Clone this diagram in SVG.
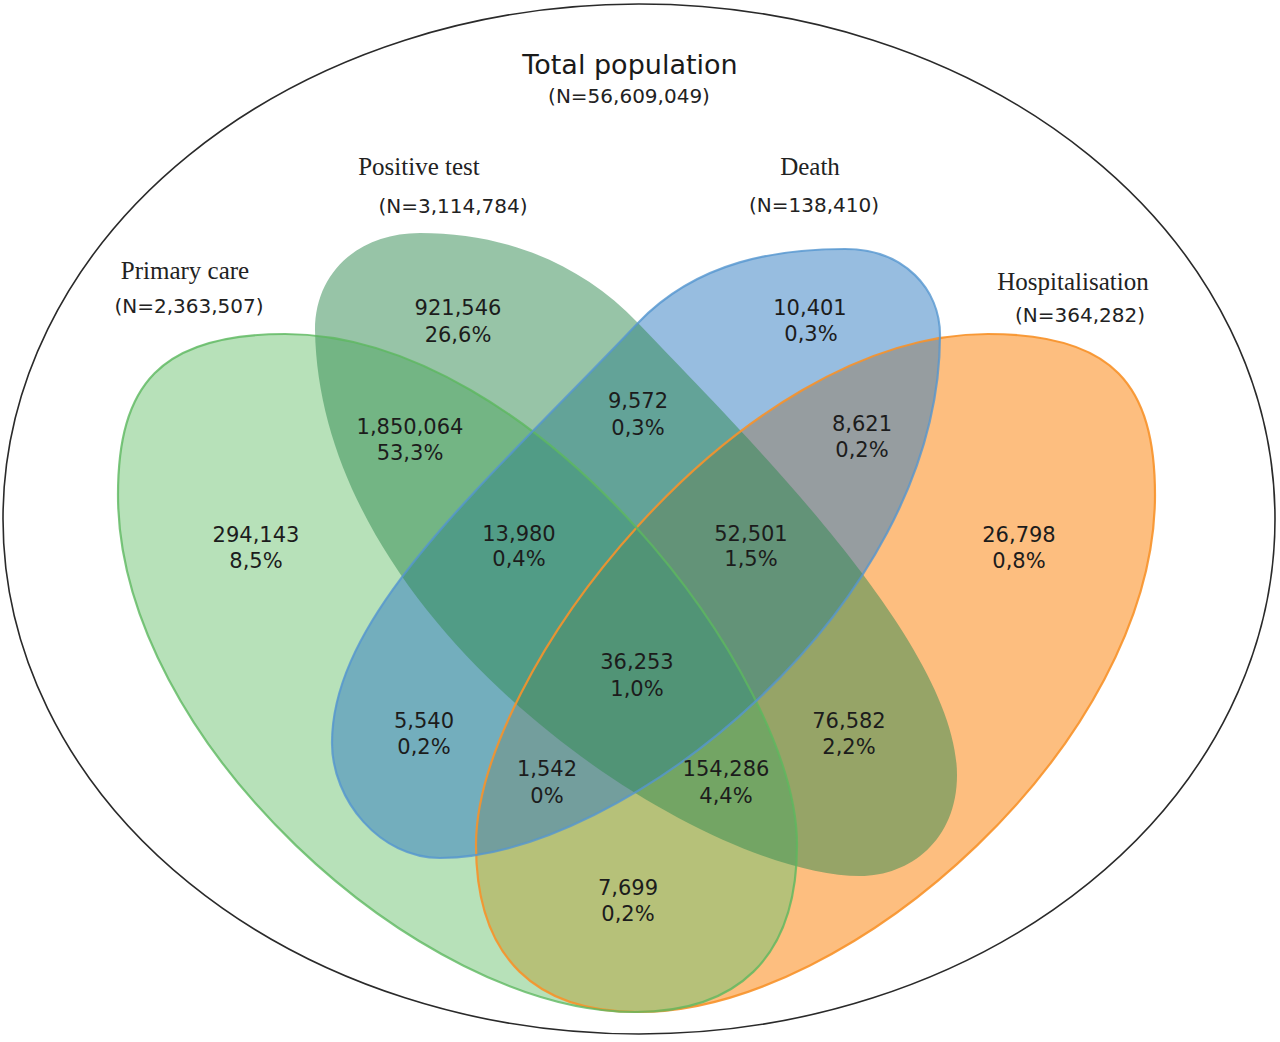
<svg xmlns="http://www.w3.org/2000/svg" xmlns:xlink="http://www.w3.org/1999/xlink" width="1280" height="1042" viewBox="0 0 1280 1042">
<style>
.title{font-family:"DejaVu Sans","Verdana",sans-serif;font-size:27px;fill:#1a1a1a;text-anchor:middle}
.n{font-family:"DejaVu Sans","Verdana",sans-serif;font-size:20px;fill:#222;text-anchor:middle}
.set{font-family:"Liberation Serif","Times New Roman",serif;font-size:25px;fill:#222;text-anchor:middle}
.v{font-family:"DejaVu Sans","Verdana",sans-serif;font-size:21px;fill:#1c1c1c;text-anchor:middle}
.outline{fill:none;stroke-width:2.2}
</style>
<defs>
<path id="shpGreen" d="M285,334 C160,334 118,385 118,495 C118,740 420,1012 635,1012 C735,1012 797,960 797,845 C797,675 535,334 285,334 Z"/>
<path id="shpPos" d="M420,233 C500,233 578,260 638,323 C749,439 957,645 957,775 C957,840 910,876 860,876 C700,876 320,630 315,330 C315,272 359,233 420,233 Z"/>
<path id="shpDeath" d="M845,249 C905,249 940,290 940,335 C940,610 620,858 440,858 C380,858 332,800 332,743 C332,613 488,481 638,323 C698,260 780,249 845,249 Z"/>
</defs>
<rect width="1280" height="1042" fill="#ffffff"/>
<g id="total-population">
<ellipse cx="639" cy="519" rx="636" ry="515" fill="none" stroke="#2a2a2a" stroke-width="1.6"/>
<text class="title" x="630" y="74">Total population</text>
<text class="n" x="629" y="103">(N=56,609,049)</text>
</g>
<g id="hospitalisation">
<use xlink:href="#shpGreen" transform="matrix(-1 0 0 1 1273 0)" fill="#fb7d00" fill-opacity="0.5"/>
<text class="set" x="1073" y="290">Hospitalisation</text>
<text class="n" x="1080" y="322">(N=364,282)</text>
</g>
<g id="primary-care">
<use xlink:href="#shpGreen" fill="#6fc373" fill-opacity="0.5"/>
<text class="set" x="185" y="279">Primary care</text>
<text class="n" x="189" y="313">(N=2,363,507)</text>
</g>
<g id="death">
<use xlink:href="#shpDeath" fill="#2f7bc1" fill-opacity="0.5"/>
<text class="set" x="810" y="175">Death</text>
<text class="n" x="814" y="212">(N=138,410)</text>
</g>
<g id="positive-test">
<use xlink:href="#shpPos" fill="#2f894f" fill-opacity="0.5"/>
<text class="set" x="419" y="175">Positive test</text>
<text class="n" x="453" y="213">(N=3,114,784)</text>
</g>
<g id="outlines">
<use xlink:href="#shpGreen" transform="matrix(-1 0 0 1 1273 0)" class="outline" stroke="#f7922a" stroke-opacity="0.9"/>
<use xlink:href="#shpGreen" class="outline" stroke="#5cb85f" stroke-opacity="0.8"/>
<use xlink:href="#shpDeath" class="outline" stroke="#5596cf" stroke-opacity="0.8"/>
</g>
<g id="connectors"></g>
<g id="region-labels">
<text class="v" x="458" y="315">921,546</text><text class="v" x="458" y="342">26,6%</text>
<text class="v" x="810" y="315">10,401</text><text class="v" x="811" y="341">0,3%</text>
<text class="v" x="410" y="434">1,850,064</text><text class="v" x="410" y="460">53,3%</text>
<text class="v" x="638" y="408">9,572</text><text class="v" x="638" y="435">0,3%</text>
<text class="v" x="862" y="431">8,621</text><text class="v" x="862" y="457">0,2%</text>
<text class="v" x="256" y="542">294,143</text><text class="v" x="256" y="568">8,5%</text>
<text class="v" x="519" y="541">13,980</text><text class="v" x="519" y="566">0,4%</text>
<text class="v" x="751" y="541">52,501</text><text class="v" x="751" y="566">1,5%</text>
<text class="v" x="1019" y="542">26,798</text><text class="v" x="1019" y="568">0,8%</text>
<text class="v" x="637" y="669">36,253</text><text class="v" x="637" y="696">1,0%</text>
<text class="v" x="424" y="728">5,540</text><text class="v" x="424" y="754">0,2%</text>
<text class="v" x="849" y="728">76,582</text><text class="v" x="849" y="754">2,2%</text>
<text class="v" x="547" y="776">1,542</text><text class="v" x="547" y="803">0%</text>
<text class="v" x="726" y="776">154,286</text><text class="v" x="726" y="803">4,4%</text>
<text class="v" x="628" y="895">7,699</text><text class="v" x="628" y="921">0,2%</text>
</g>
</svg>
